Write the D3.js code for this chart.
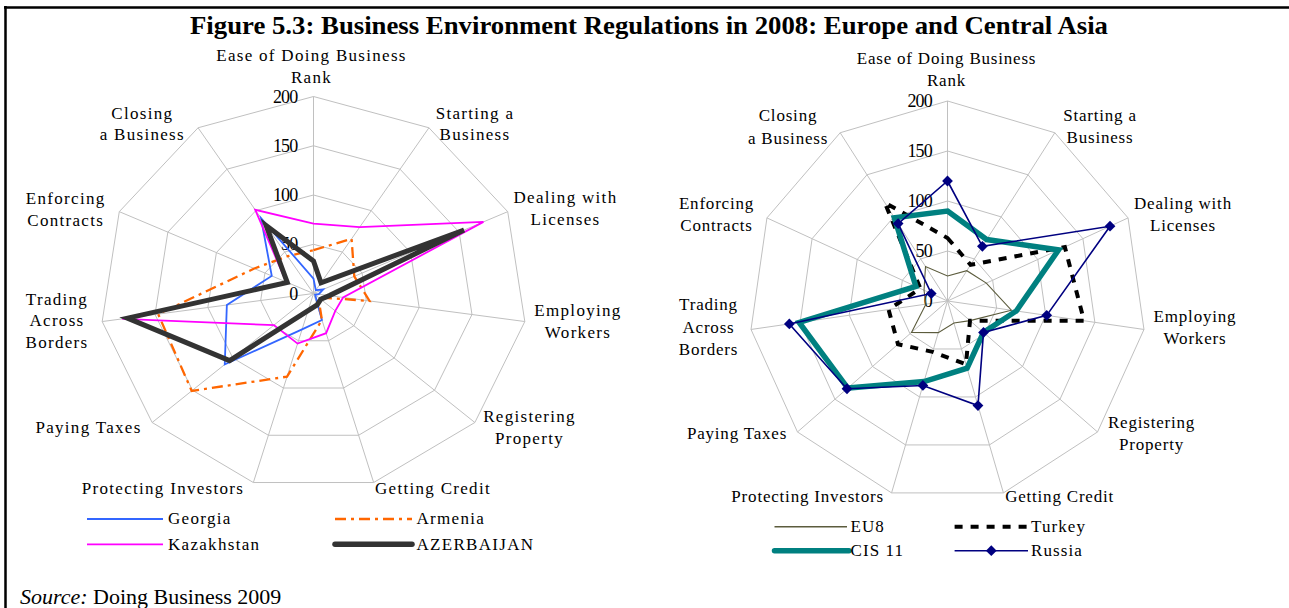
<!DOCTYPE html>
<html>
<head>
<meta charset="utf-8">
<script src="https://cdn.jsdelivr.net/npm/d3@7"></script>
<style>
  body { margin: 0; background: #fff; }
  svg { display: block; }
  text { font-family: "Liberation Serif", "Times New Roman", serif; fill: #000; }
</style>
</head>
<body>
<svg id="fig" width="1289" height="608"></svg>
<script>
// Doing Business 2009 ranks (lower is better), one value per indicator
const indicators = [
  ["Ease of Doing Business", "Rank"],
  ["Starting a", "Business"],
  ["Dealing with", "Licenses"],
  ["Employing", "Workers"],
  ["Registering", "Property"],
  ["Getting Credit"],
  ["Protecting Investors"],
  ["Paying Taxes"],
  ["Trading", "Across", "Borders"],
  ["Enforcing", "Contracts"],
  ["Closing", "a Business"]
];
const tickValues = [0, 50, 100, 150, 200];

const georgia    = [15, 4, 10, 5, 2, 28, 38, 110, 82, 43, 91];
const armenia    = [44, 66, 42, 53, 6, 28, 88, 151, 147, 61, 45];
const kazakhstan = [71, 80, 175, 28, 27, 42, 53, 49, 181, 28, 101];
const azerbaijan = [33, 13, 155, 15, 9, 12, 18, 104, 176, 27, 82];

const eu8    = [25, 36, 43, 65, 30, 23, 33, 48, 22, 26, 41];
const turkey = [63, 43, 130, 139, 30, 66, 53, 66, 60, 30, 117];
const cis11  = [90, 73, 123, 70, 48, 70, 84, 133, 151, 35, 99];
const russia = [120, 65, 180, 101, 48, 109, 88, 134, 161, 18, 92];

const svg = d3.select("#fig");

// frame
svg.append("path").attr("d", "M4,7.5H1289M5.5,6V608")
  .attr("fill", "none").attr("stroke", "#000").attr("stroke-width", 2.5);

svg.append("text")
  .attr("x", 649).attr("y", 33.5).attr("text-anchor", "middle")
  .attr("font-size", 25).attr("font-weight", "bold")
  .attr("textLength", 918).attr("lengthAdjust", "spacingAndGlyphs")
  .text("Figure 5.3: Business Environment Regulations in 2008: Europe and Central Asia");

const src = svg.append("text").attr("x", 20).attr("y", 603.5).attr("font-size", 22);
src.append("tspan").attr("font-style", "italic").text("Source:");
src.append("tspan").text(" Doing Business 2009");

const n = indicators.length;
const angle = d3.scaleLinear().domain([0, n]).range([0, 2 * Math.PI]);

function radar(cfg) {
  const g = svg.append("g");
  const rX = d3.scaleLinear().domain([0, 200]).range([0, cfg.rx]);
  const rY = d3.scaleLinear().domain([0, 200]).range([0, cfg.ry]);
  const pt = (i, v) => [cfg.cx + rX(v) * Math.sin(angle(i)), cfg.cy - rY(v) * Math.cos(angle(i))];
  const idx = d3.range(n);
  const closed = d3.line().curve(d3.curveLinearClosed);

  // rings and spokes
  g.selectAll("path.ring").data(tickValues.slice(1)).join("path")
    .attr("class", "ring")
    .attr("d", t => closed(idx.map(i => pt(i, t))))
    .attr("fill", "none").attr("stroke", "#c0c0c0").attr("stroke-width", 1);
  g.selectAll("line.spoke").data(idx).join("line")
    .attr("class", "spoke")
    .attr("x1", cfg.cx).attr("y1", cfg.cy)
    .attr("x2", i => pt(i, 200)[0]).attr("y2", i => pt(i, 200)[1])
    .attr("stroke", "#c0c0c0").attr("stroke-width", 1);

  // tick labels along the top spoke
  g.selectAll("text.tick").data(tickValues).join("text")
    .attr("class", "tick")
    .attr("x", cfg.tickX).attr("y", t => pt(0, t)[1])
    .attr("dy", "0.34em").attr("text-anchor", "end")
    .attr("font-size", 18).attr("letter-spacing", -0.8)
    .text(t => t);

  // indicator labels
  indicators.forEach((lines, i) => {
    const [lx, ly] = cfg.labelPos[i];
    const t = g.append("text").attr("text-anchor", "middle")
      .attr("font-size", 17).attr("letter-spacing", cfg.spacing);
    lines.forEach((s, k) => {
      t.append("tspan").attr("x", lx).attr("y", ly + k * cfg.lineGap).attr("dy", "0.32em").text(s);
    });
  });

  // series
  cfg.series.forEach(s => {
    g.append("path")
      .attr("d", closed(s.values.map((v, i) => pt(i, v))))
      .attr("fill", "none").attr("stroke", s.color).attr("stroke-width", s.width)
      .attr("stroke-dasharray", s.dash || null)
      .attr("stroke-linejoin", s.join || "miter");
    if (s.marker) {
      g.selectAll(null).data(s.values).join("path")
        .attr("d", d3.symbol(d3.symbolSquare, 58)())
        .attr("transform", (v, i) => `translate(${pt(i, v)}) rotate(45)`)
        .attr("fill", s.color);
    }
  });

  // legend
  cfg.series.forEach((s, k) => {
    const [x1, x2, tx, y] = cfg.legendPos[k];
    svg.append("line").attr("x1", x1).attr("x2", x2).attr("y1", y).attr("y2", y)
      .attr("stroke", s.color).attr("stroke-width", s.legendWidth || s.width)
      .attr("stroke-dasharray", s.dash || null)
      .attr("stroke-linecap", s.cap || "butt");
    if (s.marker) {
      svg.append("path").attr("d", d3.symbol(d3.symbolSquare, 58)())
        .attr("transform", `translate(${(x1 + x2) / 2},${y}) rotate(45)`)
        .attr("fill", s.color);
    }
    svg.append("text").attr("x", tx).attr("y", y).attr("dy", "0.32em")
      .attr("font-size", 17).attr("letter-spacing", cfg.legendSpacing)
      .text(s.name);
  });
}

radar({
  cx: 313.5, cy: 293.5, rx: 213.5, ry: 197, tickX: 297.5,
  spacing: 1.3, lineGap: 21.5, legendSpacing: 1.3,
  labelPos: [[311.5, 56], [475, 113.5], [565.5, 198], [578, 310.7], [529.5, 416.7],
             [433, 488.3], [163, 488.3], [88.5, 427.3], [57, 299.3], [65.7, 199], [142.3, 113.3]],
  series: [
    { name: "Georgia", values: georgia, color: "#3366ff", width: 1.8 },
    { name: "Armenia", values: armenia, color: "#ff6600", width: 2.3, dash: "11,5,3,5" },
    { name: "Kazakhstan", values: kazakhstan, color: "#ff00ff", width: 1.8 },
    { name: "AZERBAIJAN", values: azerbaijan, color: "#333333", width: 5, cap: "round", legendWidth: 5.5 }
  ],
  legendPos: [[87, 163, 168, 519], [335, 412, 416.5, 519], [87, 163, 168, 544.3], [335, 412, 416.5, 544.3]]
});

radar({
  cx: 947.5, cy: 301, rx: 198.5, ry: 200, tickX: 932,
  spacing: 0.8, lineGap: 22.2, legendSpacing: 1.1,
  labelPos: [[946.5, 58.3], [1100, 115.7], [1183, 203.3], [1195, 316.7], [1151.5, 422.3],
             [1059.6, 496.7], [807.6, 496.7], [737, 433.3], [708.5, 305], [716.5, 203.3], [788, 116]],
  series: [
    { name: "EU8", values: eu8, color: "#5c5c3d", width: 1.1, legendWidth: 1.6 },
    { name: "Turkey", values: turkey, color: "#000000", width: 4, dash: "8,8" },
    { name: "CIS 11", values: cis11, color: "#008080", width: 5.5, cap: "round" },
    { name: "Russia", values: russia, color: "#000080", width: 1.6, marker: true }
  ],
  legendPos: [[774.5, 847, 850.5, 526.7], [954.6, 1028, 1031, 526.7], [774.5, 849, 850.5, 550.7], [954.6, 1028, 1031, 550.7]]
});
</script>
</body>
</html>
